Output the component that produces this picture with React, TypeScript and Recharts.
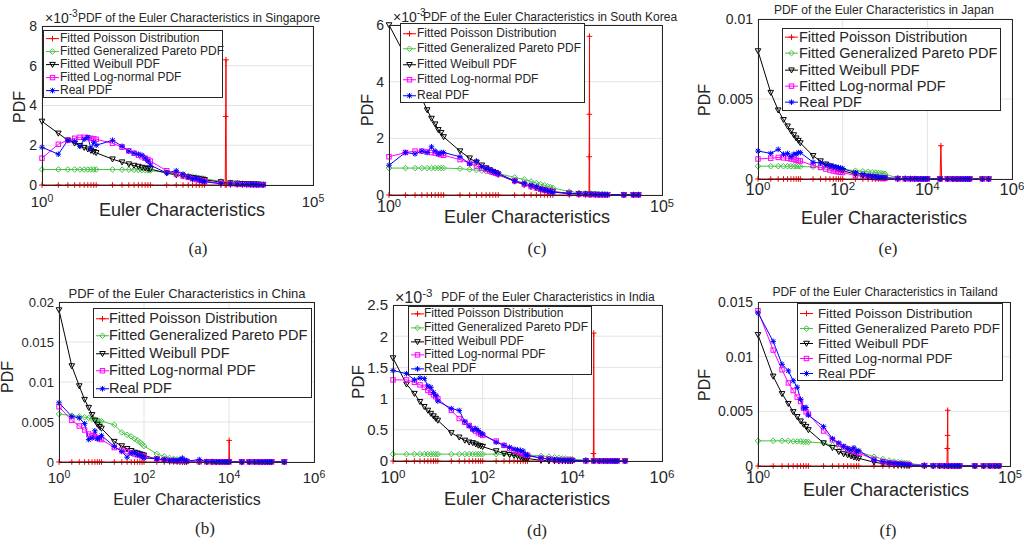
import React from 'react';
import { LineChart, Line, XAxis, YAxis, CartesianGrid } from 'recharts';

const FONT = '"Liberation Sans", Arial, Helvetica, sans-serif';
const SERIF = '"Liberation Serif", "Times New Roman", serif';
const INK = '#262626';

// All PDF values are in units of 1e-3.

// (a) Singapore
const singaporeX = [1, 2, 3, 4, 5, 6, 7, 8, 9, 10, 20, 30, 40, 50, 60, 70, 80, 90, 100, 200, 300, 400, 500, 600, 700, 800, 900, 1000, 2000, 3000, 4000, 5000, 6000, 7000, 8000, 9000, 10000, 12000];
const singaporeReal = [1.9, 1.55, 2.25, 2.2, 1.95, 2.3, 2.4, 1.85, 2.15, 2.0, 2.25, 1.95, 1.7, 1.6, 1.55, 1.5, 1.35, 1.2, 1.0, 0.6, 0.72, 0.55, 0.4, 0.3, 0.35, 0.25, 0.2, 0.16, 0.06, 0.05, 0.04, 0.03, 0.03, 0.02, 0.02, 0.02, 0.02, 0.01];
const singaporeLognormal = [1.35, 2.05, 2.25, 2.35, 2.4, 2.4, 2.38, 2.35, 2.32, 2.3, 2.1, 1.9, 1.72, 1.6, 1.5, 1.42, 1.35, 1.28, 1.2, 0.72, 0.55, 0.45, 0.38, 0.32, 0.28, 0.25, 0.22, 0.2, 0.09, 0.06, 0.04, 0.03, 0.03, 0.02, 0.02, 0.02, 0.01, 0.01];
const singaporeWeibull = [3.2, 2.6, 2.25, 2.1, 1.98, 1.88, 1.8, 1.73, 1.67, 1.62, 1.3, 1.15, 1.05, 0.98, 0.93, 0.88, 0.85, 0.82, 0.8, 0.6, 0.5, 0.44, 0.4, 0.36, 0.33, 0.3, 0.28, 0.26, 0.15, 0.1, 0.08, 0.06, 0.05, 0.04, 0.04, 0.03, 0.03, 0.02];
const singaporePareto = [0.78, 0.78, 0.78, 0.78, 0.78, 0.78, 0.78, 0.78, 0.78, 0.78, 0.78, 0.77, 0.77, 0.76, 0.76, 0.75, 0.75, 0.74, 0.73, 0.62, 0.55, 0.5, 0.46, 0.42, 0.39, 0.36, 0.34, 0.32, 0.18, 0.12, 0.09, 0.07, 0.06, 0.05, 0.04, 0.04, 0.03, 0.03];
const singaporePoissonX = [1, 2, 3, 4, 5, 6, 7, 8, 9, 10, 20, 30, 40, 50, 60, 70, 80, 90, 100, 200, 300, 400, 500, 600, 700, 800, 900, 1000, 2000, 2400, 2450, 2480, 2520, 3000, 4000, 5000, 6000, 7000, 8000, 9000, 10000, 12000];
const singaporePoisson = [0, 0, 0, 0, 0, 0, 0, 0, 0, 0, 0, 0, 0, 0, 0, 0, 0, 0, 0, 0, 0, 0, 0, 0, 0, 0, 0, 0, 0, 0, 3.45, 6.3, 0, 0, 0, 0, 0, 0, 0, 0, 0, 0];

// (c) South Korea
const koreaX = [1, 2, 3, 4, 5, 6, 7, 8, 9, 10, 20, 30, 40, 50, 60, 70, 80, 90, 100, 200, 300, 400, 500, 600, 700, 800, 900, 1000, 2000, 3000, 4000, 5000, 6000, 7000, 8000, 9000, 10000, 20000, 30000, 37000];
const koreaReal = [1.05, 1.5, 1.45, 1.55, 1.5, 1.7, 1.55, 1.45, 1.5, 1.5, 1.35, 1.1, 1.2, 1.0, 0.95, 0.9, 0.85, 0.8, 0.76, 0.5, 0.42, 0.35, 0.3, 0.22, 0.18, 0.15, 0.12, 0.1, 0.05, 0.04, 0.03, 0.03, 0.02, 0.02, 0.02, 0.02, 0.01, 0.01, 0.01, 0.01];
const koreaLognormal = [1.35, 1.5, 1.55, 1.55, 1.52, 1.5, 1.48, 1.45, 1.42, 1.4, 1.25, 1.12, 1.02, 0.95, 0.9, 0.85, 0.8, 0.77, 0.74, 0.5, 0.38, 0.3, 0.25, 0.2, 0.17, 0.15, 0.13, 0.11, 0.05, 0.03, 0.02, 0.02, 0.01, 0.01, 0.01, 0.01, 0.01, 0, 0, 0];
const koreaWeibull = [6.0, 4.9, 4.0, 3.4, 3.0, 2.7, 2.5, 2.3, 2.2, 2.05, 1.55, 1.3, 1.15, 1.05, 0.95, 0.88, 0.82, 0.78, 0.72, 0.48, 0.36, 0.29, 0.24, 0.2, 0.18, 0.15, 0.13, 0.12, 0.06, 0.04, 0.03, 0.02, 0.02, 0.01, 0.01, 0.01, 0.01, 0, 0, 0];
const koreaPareto = [0.95, 0.95, 0.95, 0.95, 0.95, 0.95, 0.95, 0.95, 0.95, 0.95, 0.93, 0.9, 0.88, 0.86, 0.84, 0.82, 0.8, 0.78, 0.76, 0.62, 0.55, 0.48, 0.42, 0.38, 0.34, 0.31, 0.28, 0.25, 0.12, 0.08, 0.06, 0.05, 0.04, 0.03, 0.03, 0.02, 0.02, 0.01, 0.01, 0.01];
const koreaPoissonX = [1, 2, 3, 4, 5, 6, 7, 8, 9, 10, 20, 30, 40, 50, 60, 70, 80, 90, 100, 200, 300, 400, 500, 600, 700, 800, 900, 1000, 2000, 3000, 4000, 4600, 4640, 4670, 4700, 4740, 5000, 6000, 7000, 8000, 9000, 10000];
const koreaPoisson = [0, 0, 0, 0, 0, 0, 0, 0, 0, 0, 0, 0, 0, 0, 0, 0, 0, 0, 0, 0, 0, 0, 0, 0, 0, 0, 0, 0, 0, 0, 0, 0, 1.35, 2.85, 5.6, 0, 0, 0, 0, 0, 0, 0];

// (e) Japan
const japanX = [1, 2, 3, 4, 5, 6, 7, 8, 9, 10, 20, 30, 40, 50, 60, 70, 80, 90, 100, 200, 300, 400, 500, 600, 700, 800, 900, 1000, 2000, 3000, 4000, 5000, 6000, 7000, 8000, 9000, 10000, 20000, 30000, 40000, 50000, 60000, 70000, 80000, 90000, 100000, 200000, 280000];
const japanReal = [1.75, 1.6, 1.85, 1.55, 1.6, 1.4, 1.55, 1.55, 1.65, 1.65, 1.05, 1.0, 0.9, 0.85, 0.8, 0.75, 0.72, 0.68, 0.65, 0.4, 0.3, 0.22, 0.18, 0.15, 0.12, 0.1, 0.09, 0.08, 0.04, 0.03, 0.02, 0.02, 0.01, 0.01, 0.01, 0.01, 0.01, 0.01, 0, 0, 0, 0, 0, 0, 0, 0, 0, 0];
const japanLognormal = [1.25, 1.3, 1.35, 1.32, 1.3, 1.25, 1.22, 1.18, 1.15, 1.12, 0.85, 0.72, 0.62, 0.56, 0.5, 0.47, 0.44, 0.42, 0.4, 0.22, 0.16, 0.12, 0.1, 0.08, 0.07, 0.06, 0.05, 0.05, 0.02, 0.01, 0.01, 0.01, 0.01, 0, 0, 0, 0, 0, 0, 0, 0, 0, 0, 0, 0, 0, 0, 0];
const japanWeibull = [8.0, 5.4, 4.3, 3.7, 3.3, 3.0, 2.75, 2.55, 2.4, 2.25, 1.45, 1.12, 0.92, 0.8, 0.72, 0.65, 0.6, 0.55, 0.52, 0.3, 0.2, 0.15, 0.12, 0.1, 0.08, 0.07, 0.06, 0.05, 0.02, 0.01, 0.01, 0, 0, 0, 0, 0, 0, 0, 0, 0, 0, 0, 0, 0, 0, 0, 0, 0];
const japanPareto = [0.8, 0.8, 0.8, 0.8, 0.8, 0.8, 0.8, 0.8, 0.8, 0.78, 0.76, 0.74, 0.72, 0.7, 0.68, 0.66, 0.64, 0.62, 0.6, 0.52, 0.48, 0.45, 0.42, 0.4, 0.38, 0.36, 0.34, 0.32, 0.05, 0.03, 0.02, 0.02, 0.01, 0.01, 0.01, 0.01, 0.01, 0, 0, 0, 0, 0, 0, 0, 0, 0, 0, 0];
const japanPoissonX = [1, 2, 3, 4, 5, 6, 7, 8, 9, 10, 20, 30, 40, 50, 60, 70, 80, 90, 100, 200, 300, 400, 500, 600, 700, 800, 900, 1000, 2000, 3000, 4000, 5000, 6000, 7000, 8000, 9000, 10000, 20000, 20900, 21800, 30000, 40000, 50000, 60000, 70000, 80000, 90000, 100000, 200000, 280000];
const japanPoisson = [0, 0, 0, 0, 0, 0, 0, 0, 0, 0, 0, 0, 0, 0, 0, 0, 0, 0, 0, 0, 0, 0, 0, 0, 0, 0, 0, 0, 0, 0, 0, 0, 0, 0, 0, 0, 0, 0, 2.08, 0, 0, 0, 0, 0, 0, 0, 0, 0, 0, 0];

// (b) China
const chinaX = [1, 2, 3, 4, 5, 6, 7, 8, 9, 10, 20, 30, 40, 50, 60, 70, 80, 90, 100, 200, 300, 400, 500, 600, 700, 800, 900, 1000, 2000, 3000, 4000, 5000, 6000, 7000, 8000, 9000, 10000, 20000, 30000, 40000, 50000, 60000, 70000, 80000, 90000, 100000, 200000];
const chinaReal = [7.4, 5.7, 5.5, 4.8, 2.8, 3.0, 3.9, 2.9, 3.0, 3.3, 1.95, 1.3, 0.6, 1.1, 1.2, 0.9, 0.9, 0.7, 0.5, 0.4, 0.3, 0.2, 0.25, 0.15, 0.3, 0.5, 0.2, 0.1, 0.3, 0.05, 0.05, 0.02, 0.02, 0.01, 0.01, 0.01, 0.01, 0, 0, 0, 0, 0, 0, 0, 0, 0, 0];
const chinaLognormal = [6.9, 5.2, 4.5, 4.0, 3.5, 3.3, 3.2, 3.0, 2.9, 2.8, 1.8, 1.5, 1.3, 1.15, 1.0, 0.9, 0.82, 0.76, 0.7, 0.35, 0.24, 0.18, 0.14, 0.12, 0.1, 0.09, 0.08, 0.07, 0.03, 0.02, 0.01, 0.01, 0.01, 0, 0, 0, 0, 0, 0, 0, 0, 0, 0, 0, 0, 0, 0];
const chinaWeibull = [19.0, 12.0, 9.5, 7.8, 6.8, 5.9, 5.2, 4.7, 4.4, 4.2, 2.55, 2.0, 1.65, 1.4, 1.2, 1.1, 1.0, 0.9, 0.83, 0.35, 0.2, 0.14, 0.11, 0.09, 0.07, 0.06, 0.05, 0.05, 0.01, 0, 0, 0, 0, 0, 0, 0, 0, 0, 0, 0, 0, 0, 0, 0, 0, 0, 0];
const chinaPareto = [6.0, 5.8, 5.7, 5.6, 5.5, 5.4, 5.3, 5.2, 5.1, 5.1, 4.65, 3.7, 3.4, 3.2, 2.9, 2.7, 2.45, 2.25, 2.0, 1.0, 0.7, 0.5, 0.4, 0.32, 0.28, 0.24, 0.2, 0.18, 0.06, 0.03, 0.02, 0.01, 0.01, 0.01, 0.01, 0, 0, 0, 0, 0, 0, 0, 0, 0, 0, 0, 0];
const chinaPoissonX = [1, 2, 3, 4, 5, 6, 7, 8, 9, 10, 20, 30, 40, 50, 60, 70, 80, 90, 100, 200, 300, 400, 500, 600, 700, 800, 900, 1000, 2000, 3000, 4000, 5000, 6000, 7000, 8000, 9000, 9900, 10100, 10300, 20000, 30000, 40000, 50000, 60000, 70000, 80000, 90000, 100000, 200000];
const chinaPoisson = [0, 0, 0, 0, 0, 0, 0, 0, 0, 0, 0, 0, 0, 0, 0, 0, 0, 0, 0, 0, 0, 0, 0, 0, 0, 0, 0, 0, 0, 0, 0, 0, 0, 0, 0, 0, 0, 2.7, 0, 0, 0, 0, 0, 0, 0, 0, 0, 0, 0];

// (d) India
const indiaX = [1, 2, 3, 4, 5, 6, 7, 8, 9, 10, 20, 30, 40, 50, 60, 70, 80, 90, 100, 200, 300, 400, 500, 600, 700, 800, 900, 1000, 2000, 3000, 4000, 5000, 6000, 7000, 8000, 9000, 10000, 20000, 30000, 40000, 50000, 60000, 70000, 80000, 90000, 100000, 150000];
const indiaReal = [1.45, 1.4, 1.3, 1.33, 1.32, 1.2, 1.18, 1.1, 1.05, 0.96, 0.84, 0.81, 0.63, 0.56, 0.5, 0.52, 0.49, 0.45, 0.43, 0.3, 0.25, 0.22, 0.19, 0.18, 0.17, 0.16, 0.1, 0.09, 0.05, 0.03, 0.02, 0.02, 0.01, 0.01, 0.01, 0.01, 0.01, 0.01, 0, 0, 0, 0, 0, 0, 0, 0, 0];
const indiaLognormal = [1.3, 1.3, 1.26, 1.22, 1.18, 1.13, 1.1, 1.06, 1.03, 1.0, 0.81, 0.68, 0.62, 0.57, 0.52, 0.48, 0.45, 0.43, 0.41, 0.32, 0.25, 0.2, 0.17, 0.15, 0.13, 0.11, 0.1, 0.09, 0.04, 0.03, 0.02, 0.01, 0.01, 0.01, 0.01, 0.01, 0.01, 0, 0, 0, 0, 0, 0, 0, 0, 0, 0];
const indiaWeibull = [1.65, 1.23, 1.08, 0.95, 0.87, 0.81, 0.76, 0.72, 0.68, 0.65, 0.45, 0.38, 0.33, 0.3, 0.29, 0.27, 0.25, 0.24, 0.23, 0.16, 0.12, 0.1, 0.09, 0.08, 0.06, 0.05, 0.04, 0.04, 0.01, 0, 0, 0, 0, 0, 0, 0, 0, 0, 0, 0, 0, 0, 0, 0, 0, 0, 0];
const indiaPareto = [0.11, 0.11, 0.11, 0.11, 0.11, 0.11, 0.11, 0.11, 0.11, 0.11, 0.11, 0.11, 0.11, 0.11, 0.11, 0.11, 0.11, 0.11, 0.11, 0.11, 0.11, 0.11, 0.1, 0.1, 0.1, 0.1, 0.1, 0.1, 0.08, 0.07, 0.06, 0.05, 0.04, 0.04, 0.03, 0.03, 0.03, 0.01, 0.01, 0, 0, 0, 0, 0, 0, 0, 0];
const indiaPoissonX = [1, 2, 3, 4, 5, 6, 7, 8, 9, 10, 20, 30, 40, 50, 60, 70, 80, 90, 100, 200, 300, 400, 500, 600, 700, 800, 900, 1000, 2000, 3000, 4000, 5000, 6000, 7000, 8000, 9000, 10000, 20000, 29000, 29500, 30000, 30500, 40000, 50000, 60000, 70000, 80000, 90000, 100000, 150000];
const indiaPoisson = [0, 0, 0, 0, 0, 0, 0, 0, 0, 0, 0, 0, 0, 0, 0, 0, 0, 0, 0, 0, 0, 0, 0, 0, 0, 0, 0, 0, 0, 0, 0, 0, 0, 0, 0, 0, 0, 0, 0, 0.12, 2.05, 0, 0, 0, 0, 0, 0, 0, 0, 0];

// (f) Thailand
const thaiX = [1, 2, 3, 4, 5, 6, 7, 8, 9, 10, 20, 30, 40, 50, 60, 70, 80, 90, 100, 200, 300, 400, 500, 600, 700, 800, 900, 1000, 2000, 3000, 4000, 5000, 6000, 7000, 8000, 9000, 10000, 20000, 30000, 40000, 50000, 60000];
const thaiReal = [14.0, 11.4, 9.3, 8.7, 7.8, 7.2, 6.1, 5.3, 5.35, 4.65, 3.6, 2.5, 2.1, 1.8, 1.6, 1.46, 1.67, 1.3, 1.4, 0.55, 0.4, 0.3, 0.25, 0.2, 0.18, 0.15, 0.12, 0.1, 0.05, 0.03, 0.02, 0.02, 0.01, 0.01, 0.01, 0.01, 0.01, 0, 0, 0, 0, 0];
const thaiLognormal = [14.2, 10.6, 8.8, 7.6, 6.9, 6.3, 5.9, 5.3, 4.95, 4.75, 3.2, 2.4, 2.0, 1.75, 1.55, 1.45, 1.35, 1.25, 1.18, 0.6, 0.4, 0.3, 0.25, 0.2, 0.17, 0.15, 0.13, 0.11, 0.04, 0.02, 0.01, 0.01, 0.01, 0, 0, 0, 0, 0, 0, 0, 0, 0];
const thaiWeibull = [12.0, 8.2, 6.6, 5.7, 4.95, 4.5, 4.1, 3.8, 3.6, 3.3, 2.1, 1.67, 1.3, 1.1, 1.0, 0.9, 0.8, 0.75, 0.7, 0.35, 0.22, 0.16, 0.12, 0.1, 0.08, 0.07, 0.06, 0.05, 0.01, 0, 0, 0, 0, 0, 0, 0, 0, 0, 0, 0, 0, 0];
const thaiPareto = [2.3, 2.3, 2.3, 2.3, 2.25, 2.25, 2.25, 2.2, 2.2, 2.2, 2.1, 1.9, 1.8, 1.7, 1.6, 1.5, 1.45, 1.4, 1.3, 0.85, 0.64, 0.5, 0.42, 0.36, 0.32, 0.28, 0.26, 0.24, 0.06, 0.03, 0.02, 0.01, 0.01, 0.01, 0, 0, 0, 0, 0, 0, 0, 0];
const thaiPoissonX = [1, 2, 3, 4, 5, 6, 7, 8, 9, 10, 20, 30, 40, 50, 60, 70, 80, 90, 100, 200, 300, 400, 500, 600, 700, 800, 900, 1000, 2000, 3000, 4000, 5000, 5600, 5700, 5750, 5800, 5900, 6000, 7000, 8000, 9000, 10000, 20000, 30000, 40000, 50000, 60000];
const thaiPoisson = [0, 0, 0, 0, 0, 0, 0, 0, 0, 0, 0, 0, 0, 0, 0, 0, 0, 0, 0, 0, 0, 0, 0, 0, 0, 0, 0, 0, 0, 0, 0, 0, 0, 1.6, 2.8, 5.1, 0, 0, 0, 0, 0, 0, 0, 0, 0, 0, 0];

const SERIES = [
  { name: 'Fitted Poisson Distribution', color: '#ff0000', marker: 'plus' },
  { name: 'Fitted Generalized Pareto PDF', color: '#45c445', marker: 'diamond' },
  { name: 'Fitted Weibull PDF', color: '#000000', marker: 'tri' },
  { name: 'Fitted Log-normal PDF', color: '#ff00ff', marker: 'square' },
  { name: 'Real PDF', color: '#0000ff', marker: 'star' },
];

const zip = (xs: number[], ys: number[]) => xs.map((x, i) => ({ x, y: ys[i] }));
const milli = (v: number) => String(v);
const unit = (v: number) => String(v / 1000);

const panels = [
  {
    id: 'a', box: { x0: 42, y0: 26, x1: 313, y1: 185 }, xMax: 1e5, xTicks: [1, 1e5],
    yMax: 8, yTicks: [0, 2, 4, 6, 8], yFormat: milli, tickFont: 14, xTickFont: 15, xTickDy: 22,
    title: { text: 'PDF of the Euler Characteristics in Singapore', cx: 199, cy: 18, size: 12 },
    exp: { left: 45, cy: 18, size: 14 },
    xLabel: { cx: 182, cy: 210, size: 18 }, yLabel: { cx: 20, cy: 107, size: 16 },
    legend: { left: 43, top: 30, width: 180, height: 68, font: 12, rowH: 13.2, padTop: 0.5, textLeft: 17 },
    sub: { cx: 198, cy: 248 },
    series: [zip(singaporePoissonX, singaporePoisson), zip(singaporeX, singaporePareto), zip(singaporeX, singaporeWeibull), zip(singaporeX, singaporeLognormal), zip(singaporeX, singaporeReal)],
  },
  {
    id: 'c', box: { x0: 389, y0: 25, x1: 662, y1: 195 }, xMax: 1e5, xTicks: [1, 1e5],
    yMax: 6, yTicks: [0, 2, 4, 6], yFormat: milli, tickFont: 14, xTickFont: 16, xTickDy: 17,
    title: { text: 'PDF of the Euler Characteristics in South Korea', cx: 550, cy: 17, size: 12 },
    exp: { left: 393, cy: 17, size: 14 },
    xLabel: { cx: 527, cy: 217, size: 18 }, yLabel: { cx: 368, cy: 110, size: 16 },
    legend: { left: 400, top: 23, width: 185, height: 80, font: 12, rowH: 15.5, padTop: 1.5, textLeft: 17 },
    sub: { cx: 537, cy: 248 },
    series: [zip(koreaPoissonX, koreaPoisson), zip(koreaX, koreaPareto), zip(koreaX, koreaWeibull), zip(koreaX, koreaLognormal), zip(koreaX, koreaReal)],
  },
  {
    id: 'e', box: { x0: 758, y0: 19, x1: 1012, y1: 179 }, xMax: 1e6, xTicks: [1, 1e2, 1e4, 1e6],
    yMax: 10, yTicks: [0, 5, 10], yFormat: unit, tickFont: 14, xTickFont: 16.5, xTickDy: 16,
    title: { text: 'PDF of the Euler Characteristics in Japan', cx: 884, cy: 10, size: 12 },
    exp: null,
    xLabel: { cx: 884, cy: 218, size: 18 }, yLabel: { cx: 705, cy: 100, size: 16 },
    legend: { left: 782, top: 28, width: 219, height: 83, font: 14.5, rowH: 16.3, padTop: 0, textLeft: 17 },
    sub: { cx: 888, cy: 248 },
    series: [zip(japanPoissonX, japanPoisson), zip(japanX, japanPareto), zip(japanX, japanWeibull), zip(japanX, japanLognormal), zip(japanX, japanReal)],
  },
  {
    id: 'b', box: { x0: 59, y0: 302, x1: 314, y1: 462 }, xMax: 1e6, xTicks: [1, 1e2, 1e4, 1e6],
    yMax: 20, yTicks: [0, 5, 10, 15, 20], yFormat: unit, tickFont: 13, xTickFont: 15, xTickDy: 21,
    title: { text: 'PDF of the Euler Characteristics in China', cx: 187, cy: 293, size: 13 },
    exp: null,
    xLabel: { cx: 187, cy: 500, size: 16 }, yLabel: { cx: 8, cy: 377, size: 16 },
    legend: { left: 93, top: 308, width: 219, height: 90, font: 14.5, rowH: 17.5, padTop: 0.5, textLeft: 16 },
    sub: { cx: 205, cy: 528 },
    series: [zip(chinaPoissonX, chinaPoisson), zip(chinaX, chinaPareto), zip(chinaX, chinaWeibull), zip(chinaX, chinaLognormal), zip(chinaX, chinaReal)],
  },
  {
    id: 'd', box: { x0: 393, y0: 305, x1: 662, y1: 461 }, xMax: 1e6, xTicks: [1, 1e2, 1e4, 1e6],
    yMax: 2.5, yTicks: [0, 0.5, 1, 1.5, 2, 2.5], yFormat: milli, tickFont: 15, xTickFont: 16.5, xTickDy: 22,
    title: { text: 'PDF of the Euler Characteristics in India', cx: 548, cy: 297, size: 12 },
    exp: { left: 395, cy: 298, size: 16 },
    xLabel: { cx: 527, cy: 499, size: 18 }, yLabel: { cx: 358, cy: 382, size: 17 },
    legend: { left: 408, top: 306, width: 184, height: 69, font: 12, rowH: 13.75, padTop: 0, textLeft: 16 },
    sub: { cx: 537, cy: 530 },
    series: [zip(indiaPoissonX, indiaPoisson), zip(indiaX, indiaPareto), zip(indiaX, indiaWeibull), zip(indiaX, indiaLognormal), zip(indiaX, indiaReal)],
  },
  {
    id: 'f', box: { x0: 758, y0: 302, x1: 1010, y1: 466 }, xMax: 1e5, xTicks: [1, 1e5],
    yMax: 15, yTicks: [0, 5, 10, 15], yFormat: unit, tickFont: 14, xTickFont: 16, xTickDy: 17,
    title: { text: 'PDF of the Euler Characteristics in Tailand', cx: 885, cy: 292, size: 12 },
    exp: null,
    xLabel: { cx: 886, cy: 490, size: 18 }, yLabel: { cx: 705, cy: 385, size: 16 },
    legend: { left: 797, top: 303, width: 206, height: 78, font: 13.3, rowH: 15, padTop: 1.5, textLeft: 21 },
    sub: { cx: 888, cy: 530 },
    series: [zip(thaiPoissonX, thaiPoisson), zip(thaiX, thaiPareto), zip(thaiX, thaiWeibull), zip(thaiX, thaiLognormal), zip(thaiX, thaiReal)],
  },
];

function Marker({ shape, color, x, y }: any) {
  const s = 2.8;
  if (shape === 'plus')
    return <path d={`M${x - s},${y}H${x + s}M${x},${y - s}V${y + s}`} stroke={color} strokeWidth={1} fill="none" />;
  if (shape === 'diamond')
    return <path d={`M${x},${y - s}L${x + s},${y}L${x},${y + s}L${x - s},${y}Z`} stroke={color} strokeWidth={1} fill="none" />;
  if (shape === 'tri')
    return <path d={`M${x - s},${y - s * 0.8}L${x + s},${y - s * 0.8}L${x},${y + s}Z`} stroke={color} strokeWidth={1} fill="none" />;
  if (shape === 'square')
    return <rect x={x - 2.2} y={y - 2.2} width={4.4} height={4.4} stroke={color} strokeWidth={1} fill="none" />;
  const d = s * 0.75;
  return (
    <path
      d={`M${x - s},${y}H${x + s}M${x},${y - s}V${y + s}M${x - d},${y - d}L${x + d},${y + d}M${x - d},${y + d}L${x + d},${y - d}`}
      stroke={color} strokeWidth={1} fill="none"
    />
  );
}

const makeDot = (shape: string, color: string) => (props: any) => {
  const { cx, cy, index } = props;
  if (cx == null || cy == null) return <g key={index} />;
  return <Marker key={index} shape={shape} color={color} x={cx} y={cy} />;
};

// "10" with a raised exponent, as MATLAB prints log-axis ticks
function PowTick({ x, y, payload, size, dy }: any) {
  const e = Math.round(Math.log10(payload.value));
  return (
    <text x={x} y={y + dy} textAnchor="middle" fontSize={size} fill={INK} fontFamily={FONT}>
      10<tspan dy={-size * 0.32} fontSize={size * 0.7}>{e}</tspan>
    </text>
  );
}

function Label({ cx, cy, size, children, rotate = false, family = FONT }: any) {
  return (
    <div
      style={{
        position: 'absolute', left: cx, top: cy, fontSize: size, fontFamily: family, color: INK,
        lineHeight: 1, whiteSpace: 'nowrap',
        transform: `translate(-50%, -50%)${rotate ? ' rotate(-90deg)' : ''}`,
      }}
    >
      {children}
    </div>
  );
}

function LegendBox({ cfg }: any) {
  const sample = 13;
  return (
    <div
      style={{
        position: 'absolute', left: cfg.left, top: cfg.top, width: cfg.width, height: cfg.height,
        boxSizing: 'border-box', border: `1px solid ${INK}`, background: '#fff',
        paddingTop: cfg.padTop, fontFamily: FONT, fontSize: cfg.font, color: INK,
      }}
    >
      {SERIES.map((s) => (
        <div key={s.name} style={{ position: 'relative', height: cfg.rowH, whiteSpace: 'nowrap' }}>
          <svg width={sample + 2} height={cfg.rowH} style={{ position: 'absolute', left: 1, top: 0 }}>
            <line x1={1} x2={sample + 1} y1={cfg.rowH / 2} y2={cfg.rowH / 2} stroke={s.color} strokeWidth={1} />
            <Marker shape={s.marker} color={s.color} x={sample / 2 + 1} y={cfg.rowH / 2} />
          </svg>
          <span style={{ position: 'absolute', left: cfg.textLeft - 1, top: 0, lineHeight: `${cfg.rowH}px` }}>{s.name}</span>
        </div>
      ))}
    </div>
  );
}

function Panel({ p }: any) {
  const { x0, y0, x1, y1 } = p.box;
  const L = 50, T = 10, R = 30, B = 32;
  const w = x1 - x0 + L + R;
  const h = y1 - y0 + T + B;
  return (
    <>
      <div style={{ position: 'absolute', left: x0 - L, top: y0 - T }}>
        <LineChart width={w} height={h} margin={{ top: T, right: R, bottom: 0, left: 0 }}>
          <CartesianGrid stroke="#e3e3e3" strokeWidth={1} />
          <XAxis
            dataKey="x" type="number" scale="log" domain={[1, p.xMax]} ticks={p.xTicks} interval={0}
            height={B} axisLine={false} tickLine={false} tickSize={0} tickMargin={0}
            tick={(t: any) => <PowTick {...t} size={p.xTickFont} dy={p.xTickDy} />}
          />
          <YAxis
            type="number" domain={[0, p.yMax]} ticks={p.yTicks} interval={0} width={L}
            axisLine={false} tickLine={false} tickSize={0} tickMargin={5}
            tickFormatter={p.yFormat}
            tick={{ fontSize: p.tickFont, fill: INK, fontFamily: FONT }}
          />
          {p.series.map((d: any, i: number) => (
            <Line
              key={SERIES[i].name}
              data={d}
              dataKey="y"
              type="linear"
              stroke={SERIES[i].color}
              strokeWidth={1}
              dot={makeDot(SERIES[i].marker, SERIES[i].color)}
              activeDot={false}
              isAnimationActive={false}
            />
          ))}
        </LineChart>
      </div>
      <div
        style={{
          position: 'absolute', left: x0, top: y0, width: x1 - x0 + 1, height: y1 - y0 + 1,
          boxSizing: 'border-box', border: `1px solid ${INK}`, pointerEvents: 'none',
        }}
      />
      <LegendBox cfg={p.legend} />
      <Label cx={p.title.cx} cy={p.title.cy} size={p.title.size}>{p.title.text}</Label>
      {p.exp && (
        <div
          style={{
            position: 'absolute', left: p.exp.left, top: p.exp.cy, transform: 'translateY(-50%)',
            fontSize: p.exp.size, fontFamily: FONT, color: INK, lineHeight: 1, whiteSpace: 'nowrap',
          }}
        >
          ×10<span style={{ fontSize: '0.72em', position: 'relative', top: '-0.55em' }}>-3</span>
        </div>
      )}
      <Label cx={p.xLabel.cx} cy={p.xLabel.cy} size={p.xLabel.size}>Euler Characteristics</Label>
      <Label cx={p.yLabel.cx} cy={p.yLabel.cy} size={p.yLabel.size} rotate>PDF</Label>
      <Label cx={p.sub.cx} cy={p.sub.cy} size={17} family={SERIF}>({p.id})</Label>
    </>
  );
}

export default function App() {
  return (
    <div
      style={{
        position: 'absolute', left: 0, top: 0, width: 1024, height: 548,
        overflow: 'hidden', background: '#fff',
      }}
    >
      {panels.map((p) => (
        <Panel key={p.id} p={p} />
      ))}
    </div>
  );
}
